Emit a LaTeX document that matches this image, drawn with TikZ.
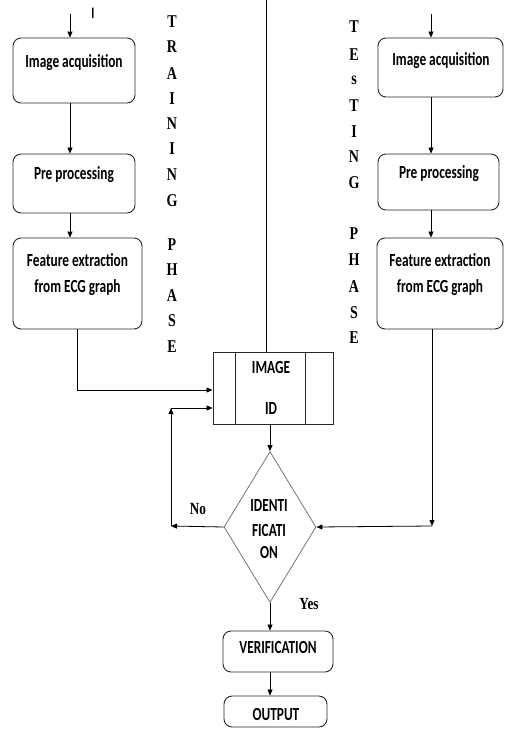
\documentclass[tikz,border=0pt]{standalone}
\usepackage{fontspec}
\usetikzlibrary{arrows.meta,shapes.geometric}
\newfontfamily\boxfont{Carlito}[FakeStretch=0.72]
\newfontfamily\phasefont{Liberation Serif}[FakeStretch=0.78]

\tikzset{
  procbox/.style={draw=black!85, line width=0.9pt, rounded corners=8pt, inner sep=0pt},
  boxtext/.style={font=\boxfont\bfseries\fontsize{18.5}{22}\selectfont, anchor=base, inner sep=0pt},
  phase/.style={font=\phasefont\bfseries\fontsize{18}{20}\selectfont, inner sep=0pt},
  arr/.style={-{Triangle[length=6pt,width=5pt]}, line width=0.8pt},
}

\begin{document}
\begin{tikzpicture}[x=1pt,y=-1pt]
\useasboundingbox (0,0) rectangle (504,729);

% free ends of the incoming lines
\coordinate (topL) at (70,14);
\coordinate (topR) at (431,14);
\coordinate (topM) at (266,0);

% training column
\node[procbox, minimum width=122pt, minimum height=65pt] (acqL) at (74,70.5) {};
\node[boxtext] (acqLt) at (74,67) {Image acquisition};
\node[procbox, minimum width=122pt, minimum height=59pt] (preL) at (74,183.5) {};
\node[boxtext] (preLt) at (74,179) {Pre processing};
\node[procbox, minimum width=129pt, minimum height=91pt] (featL) at (77.5,283.5) {};
\node[boxtext] (featLa) at (77.5,266) {Feature extraction};
\node[boxtext] (featLb) at (77.5,292) {from ECG graph};
\node[font=\boxfont\bfseries\fontsize{16}{18}\selectfont, inner sep=0pt] (cur) at (93,13) {I};

% testing column
\node[procbox, minimum width=125pt, minimum height=59pt] (acqR) at (440.5,67.5) {};
\node[boxtext] (acqRt) at (441,65) {Image acquisition};
\node[procbox, minimum width=121pt, minimum height=56pt] (preR) at (438.5,182) {};
\node[boxtext] (preRt) at (439,178) {Pre processing};
\node[procbox, minimum width=126pt, minimum height=91pt] (featR) at (440,283.5) {};
\node[boxtext] (featRa) at (440,266) {Feature extraction};
\node[boxtext] (featRb) at (440,292) {from ECG graph};

% phase labels
\foreach \ch/\yy [count=\i] in {T/22,R/47,A/74,I/99,N/124,I/149,N/175,G/201,P/245,H/270,A/296,S/321,E/347}
   \node[phase] (train\i) at (172,\yy) {\ch};
\foreach \ch/\yy [count=\i] in {T/27,E/55,s/80,T/106,I/132,N/157,G/183,P/234,H/260,A/287,S/313,E/338}
   \node[phase] (test\i) at (354,\yy) {\ch};

% image id store
\node[draw=black!85, line width=0.9pt, minimum width=120pt, minimum height=72pt, inner sep=0pt] (imgid) at (273,388) {};
\draw[line width=0.9pt, black!85] ([xshift=23pt]imgid.north west) -- ([xshift=23pt]imgid.south west);
\draw[line width=0.9pt, black!85] ([xshift=-28pt]imgid.north east) -- ([xshift=-28pt]imgid.south east);
\node[boxtext] (imgidA) at (271,373) {IMAGE};
\node[boxtext] (imgidB) at (271,414) {ID};

% decision
\node[diamond, draw=black!55, line width=0.8pt, inner sep=0pt, minimum width=92pt, minimum height=151pt] (ident) at (270,527) {};
\node[boxtext] (identA) at (269,511) {IDENTI};
\node[boxtext] (identB) at (269,536) {FICATI};
\node[boxtext] (identC) at (269,558) {ON};
\node[phase, anchor=base, font=\phasefont\bfseries\fontsize{17}{18}\selectfont] (no) at (198,514) {No};
\node[phase, anchor=base, font=\phasefont\bfseries\fontsize{17}{18}\selectfont] (yes) at (309,609) {Yes};

\node[procbox, minimum width=110pt, minimum height=41pt] (verif) at (278,651.5) {};
\node[boxtext] (veriftxt) at (278,653) {VERIFICATION};
\node[procbox, minimum width=103pt, minimum height=31pt] (outp) at (275.5,711.5) {};
\node[boxtext] (outptxt) at (276,720) {OUTPUT};

\coordinate (turnL) at (77,390);
\coordinate (turnR) at (432,526);
\coordinate (loopA) at (171,526);
\coordinate (loopB) at (171,408);

% connectors
\draw[arr] (topL) -- (acqL.north -| topL);
\draw[arr] (acqL.south -| topL) -- (preL.north -| topL);
\draw[arr] (preL.south -| topL) -- (featL.north -| topL);
\draw[line width=0.8pt] (featL.south -| turnL) -- (turnL);
\draw[arr] (turnL) -- (turnL -| imgid.west);

\draw[arr] (topR) -- (acqR.north -| topR);
\draw[arr] (acqR.south -| topR) -- (preR.north -| topR);
\draw[arr] (preR.south -| topR) -- (featR.north -| topR);
\draw[arr] (featR.south -| turnR) -- (turnR);
\draw[arr] (turnR) -- (ident.east);

\draw[line width=0.8pt] (topM) -- (imgid.north -| topM);
\draw[arr] (imgid.south -| ident.north) -- (ident.north);
\draw[arr] (ident.west) -- (loopA);
\draw[arr] (loopA) -- (loopB);
\draw[arr] (loopB) -- (loopB -| imgid.west);

\draw[arr] (ident.south) -- (verif.north -| ident.south);
\draw[arr] (verif.south -| ident.south) -- (outp.north -| ident.south);

\end{tikzpicture}
\end{document}
